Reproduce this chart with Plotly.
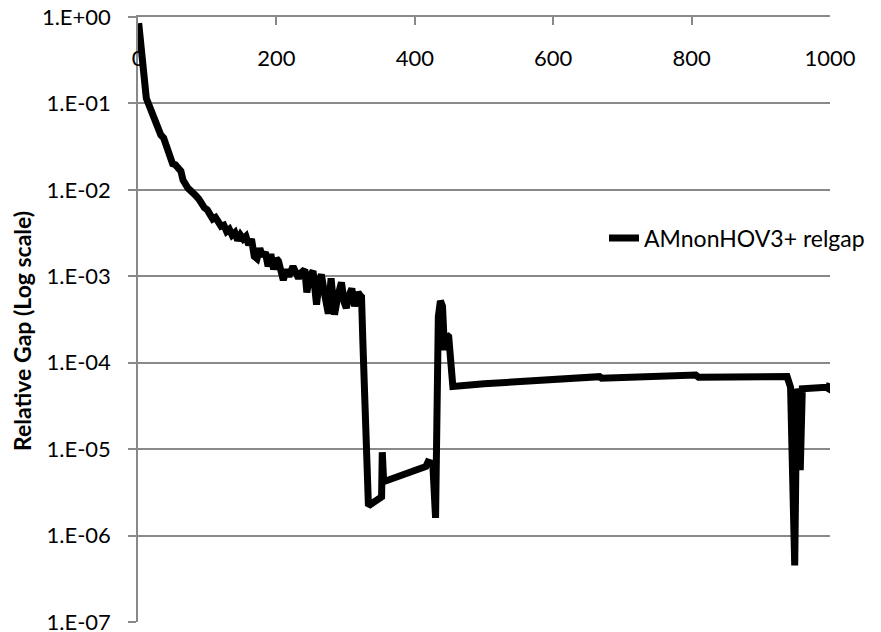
import plotly.graph_objects as go

iterations = [1, 3, 5, 8, 12, 16, 20, 25, 30, 33, 37, 40, 44, 47, 50, 54, 58, 62, 65, 68,
              72, 76, 80, 84, 88, 92, 96, 100, 104, 108, 112, 116, 120, 124, 128, 132, 136,
              140, 144, 148, 152, 156, 160, 164, 168, 172, 176, 180, 184, 188, 192, 196, 200,
              203, 206, 210, 214, 218, 224, 228, 232, 236, 241, 244, 248, 253, 258, 262, 265,
              270, 275, 279, 284, 289, 294, 298, 301, 305, 309, 313, 316, 318, 321, 323, 325,
              328, 333, 352, 353, 355, 385, 416, 419, 426, 430, 434, 437, 440, 443, 446, 449,
              452, 455, 500, 550, 600, 667, 670, 720, 806, 810, 880, 938, 943, 947, 949, 952,
              955, 957, 960, 994, 998, 1000]

relgap = [0.85, 0.55, 0.40, 0.20, 0.115, 0.095, 0.078, 0.062, 0.05, 0.043, 0.040, 0.034,
          0.028, 0.024, 0.020, 0.0195, 0.018, 0.0165, 0.013, 0.0115, 0.0105, 0.0098, 0.0093,
          0.0085, 0.0078, 0.0068, 0.0062, 0.0059, 0.0050, 0.0046, 0.0048, 0.0041, 0.0038,
          0.0039, 0.0033, 0.0035, 0.0030, 0.0032, 0.0026, 0.0030, 0.0027, 0.0029, 0.0023,
          0.0027, 0.0017, 0.0016, 0.0021, 0.0017, 0.0019, 0.0013, 0.0018, 0.0012, 0.0016,
          0.0015, 0.0011, 0.0009, 0.0012, 0.0010, 0.0013, 0.0011, 0.00095, 0.0011, 0.0012,
          0.00065, 0.0010, 0.00115, 0.00047, 0.0009, 0.00105, 0.0006, 0.00037, 0.00095,
          0.00036, 0.0006, 0.00085, 0.0005, 0.00043, 0.0006, 0.00072, 0.00045, 0.0006,
          0.00065, 0.0006, 0.00058, 0.00017, 0.000025, 0.0000022, 0.0000028, 0.0000092,
          0.0000042, 0.0000052, 0.0000063, 0.0000071, 0.0000068, 0.0000016, 0.00034,
          0.00052, 0.00045, 0.00014, 0.00021, 0.0002, 0.0001, 0.000053, 0.000057, 0.000061,
          0.000065, 0.000069, 0.000066, 0.000069, 0.000072, 0.000068, 0.000068, 0.000069,
          0.000052, 0.0000005, 0.00000045, 0.00005, 0.00004, 0.0000057, 0.00005, 0.000052,
          0.00005, 0.000058]

y_tickvals = [1e-7, 1e-6, 1e-5, 1e-4, 1e-3, 1e-2, 1e-1, 1e0]
y_ticktext = ["1.E-07", "1.E-06", "1.E-05", "1.E-04", "1.E-03", "1.E-02", "1.E-01", "1.E+00"]
x_tickvals = [0, 200, 400, 600, 800, 1000]

series_name = "AMnonHOV3+ relgap"
y_title = "Relative Gap (Log scale)"

FONT = "Lato"
GRID = "#898989"

# page body has an 8px default margin; plot area targeted at x 138..830, y 17..622 on screen
ML, MR, MT, MB = 130, 59, 9, 18
PW = 881 - ML - MR
PH = 632 - MT - MB

fig = go.Figure()
fig.add_trace(go.Scatter(
    x=iterations, y=relgap, mode="lines", name=series_name,
    line=dict(color="black", width=7),
))

fig.update_layout(
    width=881, height=632,
    margin=dict(l=ML, r=MR, t=MT, b=MB, autoexpand=False),
    paper_bgcolor="white", plot_bgcolor="white",
    font=dict(family=FONT, size=23, color="black"),
    showlegend=True,
    legend=dict(x=(604 - 138) / PW, y=(622 - 238) / PH, xanchor="left", yanchor="middle",
                bgcolor="rgba(0,0,0,0)", font=dict(family=FONT, size=23, color="black")),
    xaxis=dict(
        side="top", range=[0, 1000], tickvals=x_tickvals,
        showgrid=False, zeroline=False, automargin=False,
        showline=True, linecolor=GRID, linewidth=1.5,
        ticks="inside", ticklen=8, tickcolor=GRID, tickwidth=1.5,
        ticklabelposition="inside", ticklabelstandoff=27, ticklabeloverflow="allow",
        tickfont=dict(family=FONT, size=22, color="black"),
    ),
    yaxis=dict(
        type="log", range=[-7, 0], tickvals=y_tickvals, ticktext=y_ticktext,
        showgrid=True, gridcolor=GRID, gridwidth=1.5, zeroline=False, automargin=False,
        showline=True, linecolor=GRID, linewidth=1.5,
        ticks="outside", ticklen=8, tickcolor=GRID, tickwidth=1.5,
        ticklabelstandoff=13, ticklabeloverflow="allow",
        tickfont=dict(family=FONT, size=22, color="black"),
    ),
    annotations=[dict(
        text="<b>" + y_title + "</b>", textangle=-90,
        xref="paper", yref="paper", x=(22 - 138) / PW, y=(622 - 331) / PH,
        xanchor="center", yanchor="middle", showarrow=False,
        font=dict(family=FONT, size=23, color="black"),
    )],
)

fig.write_html("out.html")
